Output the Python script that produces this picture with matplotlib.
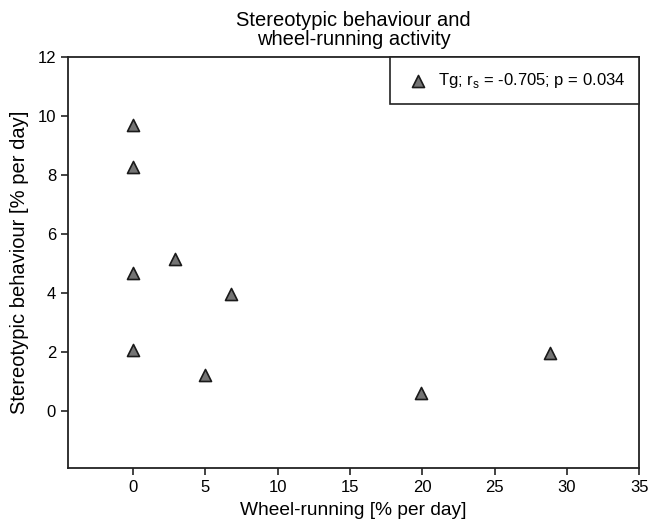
import matplotlib
matplotlib.use('Agg')
import matplotlib.pyplot as plt

plt.rcParams['font.family'] = ['Liberation Sans', 'DejaVu Sans']

# wheel-running vs stereotypic behaviour, Tg animals
wheel = [0, 0, 0, 0, 2.9, 5.0, 6.8, 19.9, 28.8]
stereo = [9.7, 8.27, 4.68, 2.07, 5.15, 1.22, 3.97, 0.61, 1.97]
legend_label = 'Tg; r$_\\mathregular{s}$ = -0.705; p = 0.034'

fig = plt.figure(figsize=(6.59, 5.23), dpi=100)
ax = fig.add_axes([0.103, 0.105, 0.867, 0.786])

ax.scatter(wheel, stereo, marker='^', s=75, facecolor='#747474',
           edgecolor='#1a1a1a', linewidth=1.2, label=legend_label, zorder=3)

ax.set_xlim(-4.5, 35)
ax.set_ylim(-1.93, 12)
ax.set_xticks(range(0, 36, 5))
ax.set_yticks(range(0, 13, 2))
ax.tick_params(direction='out', length=5, width=1.2, labelsize=12, color='#222222')
for sp in ax.spines.values():
    sp.set_linewidth(1.3)
    sp.set_color('#222222')

ax.set_xlabel('Wheel-running [% per day]', fontsize=13.8, labelpad=5)
ax.set_ylabel('Stereotypic behaviour [% per day]', fontsize=14.5, labelpad=6)
ax.set_title('Stereotypic behaviour and\nwheel-running activity', fontsize=14.5, pad=9,
             linespacing=0.95)

leg = ax.legend(loc='upper right', borderaxespad=0, fancybox=False, fontsize=12,
                edgecolor='#222222', framealpha=1, handlelength=1.65,
                handletextpad=0.37, borderpad=0.85, scatterpoints=1)
leg.get_frame().set_linewidth(1.2)

fig.savefig('out.png', dpi=100)
